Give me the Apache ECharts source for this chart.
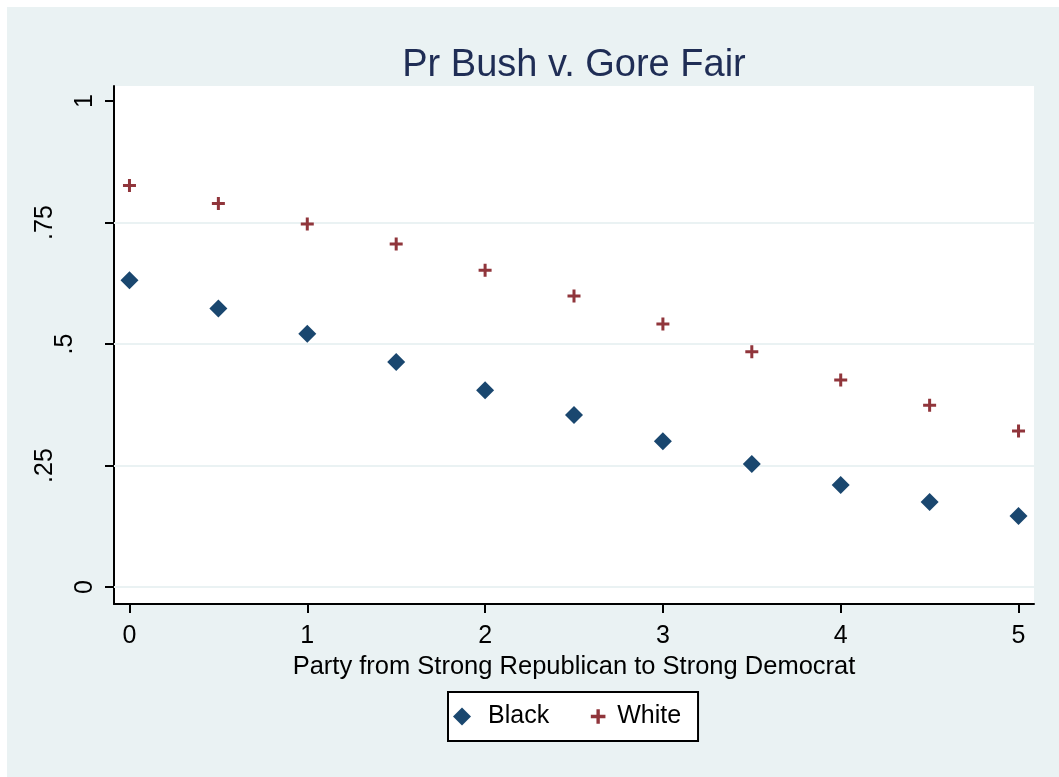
<!DOCTYPE html>
<html>
<head>
<meta charset="utf-8">
<script src="https://cdn.jsdelivr.net/npm/echarts@6/dist/echarts.min.js"></script>
<style>
html,body{margin:0;padding:0;background:#ffffff;}
#main{position:absolute;left:7px;top:7px;width:1052px;height:770px;}
</style>
</head>
<body>
<div id="main"></div>
<script>
// ---- data ----
const titleText = 'Pr Bush v. Gore Fair';
const xAxisName = 'Party from Strong Republican to Strong Democrat';
const xValues = [0, 0.5, 1, 1.5, 2, 2.5, 3, 3.5, 4, 4.5, 5];
const blackValues = [0.631, 0.573, 0.521, 0.463, 0.405, 0.354, 0.300, 0.253, 0.210, 0.175, 0.146];
const whiteValues = [0.826, 0.789, 0.747, 0.706, 0.652, 0.599, 0.541, 0.484, 0.426, 0.374, 0.321];
const xTickValues = [0, 1, 2, 3, 4, 5];
const yTickValues = [0, 0.25, 0.5, 0.75, 1];
const yTickLabels = ['0', '.25', '.5', '.75', '1'];
const yGridValues = [0, 0.25, 0.5, 0.75];
const seriesNames = ['Black', 'White'];

// ---- styles ----
const FONT = '"Liberation Sans", Arial, sans-serif';
const BG = '#EAF2F3';
const NAVY = '#1A476F';
const MAROON = '#90353B';
const PLUS = 'path://M5,0H8V5H13V8H8V13H5V8H0V5H5Z';
const PLUS_LEGEND = 'path://M-1.5,-1.5M14.5,14.5M5,0H8V5H13V8H8V13H5V8H0V5H5Z';

function pair(xs, ys) { return xs.map((x, i) => [x, ys[i]]); }

const labelPad = { '0': 0, '1': 0, '.5': 20, '.25': 40, '.75': 40 };

const chart = echarts.init(document.getElementById('main'), null, { renderer: 'canvas' });
chart.setOption({
  backgroundColor: BG,
  animation: false,
  textStyle: { fontFamily: FONT },
  title: {
    text: titleText,
    left: 567,
    top: 40,
    padding: 0,
    textAlign: 'center',
    textStyle: { fontFamily: FONT, fontSize: 38, fontWeight: 'normal', color: '#1F2D55' }
  },
  grid: {
    left: 107, right: 25, top: 79, bottom: 173,
    show: true, backgroundColor: '#ffffff', borderWidth: 0,
    containLabel: false
  },
  legend: {
    data: [
      { name: seriesNames[0], icon: 'diamond', itemStyle: { color: NAVY, opacity: 1 } },
      { name: seriesNames[1], icon: PLUS_LEGEND, itemStyle: { color: MAROON, opacity: 1 },
        textStyle: { fontFamily: FONT, fontSize: 25, color: '#000000', padding: [0, 0, 0, 5] } }
    ],
    left: 441, top: 685,
    orient: 'horizontal',
    backgroundColor: '#ffffff',
    borderColor: '#000000', borderWidth: 2, borderRadius: 0,
    padding: [12, 17, 12, 5],
    itemWidth: 18, itemHeight: 18, itemGap: 40,
    textStyle: { fontFamily: FONT, fontSize: 25, color: '#000000', padding: [0, 0, 0, 12] }
  },
  xAxis: {
    type: 'value',
    min: -0.087, max: 5.087,
    name: xAxisName,
    nameLocation: 'middle',
    nameGap: 46,
    nameTextStyle: { fontFamily: FONT, fontSize: 25.5, color: '#000000' },
    axisLine: { show: true, onZero: false, lineStyle: { color: '#000000', width: 2 } },
    axisTick: { show: true, length: 9, customValues: xTickValues, lineStyle: { color: '#000000', width: 2 } },
    axisLabel: { show: true, customValues: xTickValues, margin: 20, fontFamily: FONT, fontSize: 25, color: '#000000' },
    splitLine: { show: false }
  },
  yAxis: {
    type: 'value',
    min: -0.035, max: 1.031,
    axisLine: { show: true, onZero: false, lineStyle: { color: '#000000', width: 2 } },
    axisTick: { show: true, length: 9, customValues: yTickValues, lineStyle: { color: '#000000', width: 2 } },
    axisLabel: {
      show: true, customValues: yTickValues, rotate: 90, margin: 16,
      fontFamily: FONT, fontSize: 25, color: '#000000',
      formatter: function (v) {
        const i = yTickValues.findIndex(t => Math.abs(t - v) < 1e-6);
        const s = i >= 0 ? yTickLabels[i] : '';
        return '{p' + (labelPad[s] || 0) + '|' + s + '}';
      },
      rich: {
        p0: { fontFamily: FONT, fontSize: 25, color: '#000', padding: [0, 0, 0, 0] },
        p20: { fontFamily: FONT, fontSize: 25, color: '#000', padding: [0, 0, 20, 0] },
        p40: { fontFamily: FONT, fontSize: 25, color: '#000', padding: [0, 0, 40, 0] }
      }
    },
    splitLine: { show: false }
  },
  series: [
    {
      name: seriesNames[0],
      type: 'scatter',
      symbol: 'diamond',
      symbolSize: 18,
      itemStyle: { color: NAVY, opacity: 1 },
      data: pair(xValues, blackValues),
      z: 3,
      markLine: {
        silent: true,
        symbol: 'none',
        label: { show: false },
        lineStyle: { color: BG, width: 2, type: 'solid', opacity: 1 },
        z: 1,
        data: yGridValues.map(v => ({ yAxis: v }))
      }
    },
    {
      name: seriesNames[1],
      type: 'scatter',
      symbol: PLUS,
      symbolSize: 13,
      itemStyle: { color: MAROON, opacity: 1 },
      data: pair(xValues, whiteValues),
      z: 3
    }
  ]
});
</script>
</body>
</html>
